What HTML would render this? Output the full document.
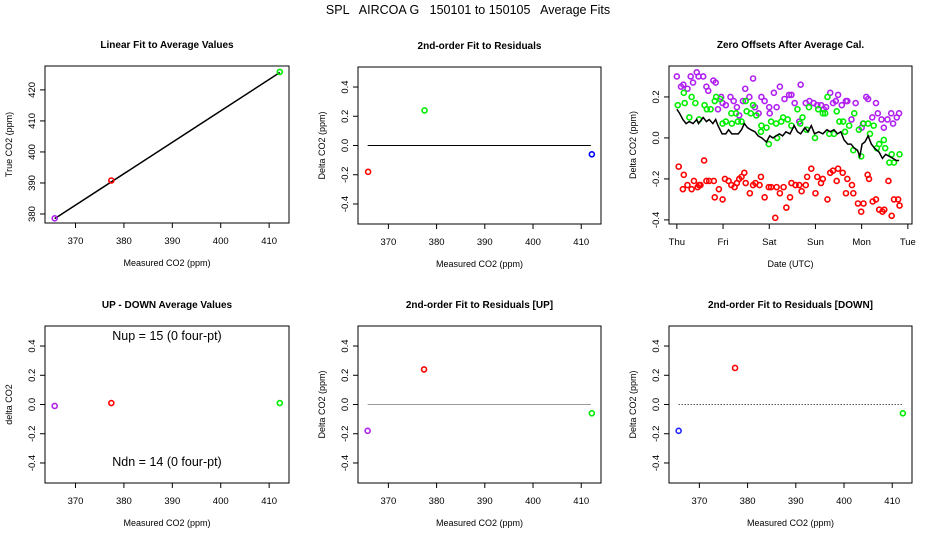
<!DOCTYPE html>
<html><head><meta charset="utf-8"><style>
body{margin:0;background:#fff}
svg{font-family:"Liberation Sans",Arial,sans-serif}
</style></head><body>
<svg id="c" width="936" height="540" viewBox="0 0 936 540">
<text x="468" y="14" text-anchor="middle" font-size="12.5" xml:space="preserve">SPL   AIRCOA G   150101 to 150105   Average Fits</text>
</svg>
<script>
// panel data
const p1X=[365.7,377.4,412.2], p1Y=[378.6,390.8,425.8], p1Col=['#b020f0','#ff0000','#00ee00'];
const p1Line=[[365.7,378.5],[412.2,425.6]];
const p2X=[365.8,377.5,412.2], p2Y=[-0.18,0.24,-0.06], p2Col=['#ff0000','#00ee00','#0000ff'];
const p4X=[365.7,377.4,412.2], p4Y=[-0.01,0.01,0.01], p4Col=['#b020f0','#ff0000','#00ee00'];
const p5X=[365.7,377.4,412.2], p5Y=[-0.18,0.24,-0.06], p5Col=['#b020f0','#ff0000','#00ee00'];
const p6X=[365.7,377.4,412.2], p6Y=[-0.18,0.25,-0.06], p6Col=['#2020ff','#ff0000','#00ee00'];
const co2Ticks=[370,380,390,400,410];
const deltaTicks=[-0.4,-0.2,0,0.2,0.4];
const trueTicks=[380,390,400,410,420];
const dayTicks=['Thu','Fri','Sat','Sun','Mon','Tue'];
const offTicks=[-0.4,-0.2,0,0.2];
// zero offsets (day, value)
const purD=[0,0.09,0.14,0.23,0.30,0.35,0.43,0.47,0.57,0.64,0.68,0.79,0.84,0.89,0.96,0.99,1.06,1.16,1.23,1.30,1.35,1.43,1.48,1.57,1.65,1.69,1.77,1.83,1.90,2.0,2.01,2.10,2.16,2.23,2.33,2.43,2.48,2.55,2.65,2.68,2.79,2.87,2.96,3.04,3.12,3.18,3.23,3.32,3.38,3.44,3.49,3.57,3.66,3.69,3.78,3.87,4.0,4.03,4.10,4.14,4.23,4.31,4.35,4.43,4.48,4.56,4.64,4.68,4.76,4.81];
const purV=[0.30,0.25,0.26,0.24,0.30,0.27,0.32,0.30,0.30,0.25,0.23,0.28,0.27,0.14,0.20,0.17,0.16,0.20,0.18,0.15,0.11,0.18,0.24,0.20,0.29,0.15,0.12,0.20,0.18,0.15,0.12,0.22,0.15,0.25,0.19,0.21,0.21,0.17,0.08,0.26,0.17,0.18,0.17,0.16,0.16,0.14,0.15,0.22,0.17,0.18,0.21,0.16,0.18,0.18,0.09,0.17,0.05,0.07,0.20,0.19,0.10,0.17,0.12,0.09,0.05,0.09,0.12,0.07,0.10,0.12];
const grnD=[0.02,0.17,0.15,0.27,0.32,0.40,0.48,0.60,0.65,0.73,0.82,0.85,0.94,0.99,1.06,1.18,1.19,1.28,1.32,1.40,1.49,1.51,1.60,1.65,1.72,1.82,1.83,1.94,1.99,2.04,2.15,2.17,2.26,2.30,2.40,2.48,2.61,2.67,2.72,2.81,2.86,2.99,3.06,3.16,3.21,3.26,3.30,3.40,3.46,3.52,3.60,3.64,3.73,3.82,3.84,3.94,3.99,4.04,4.14,4.18,4.26,4.33,4.38,4.48,4.51,4.60,4.65,4.70,4.82];
const grnV=[0.16,0.17,0.22,0.10,0.20,0.17,0.09,0.16,0.14,0.14,0.18,0.20,0.19,0.07,0.08,0.12,0.07,0.12,0.08,0.08,0.18,0.13,0.12,0.16,0.11,0.03,0.06,0.05,-0.03,0.08,0.07,0.00,0.08,0.10,0.09,0.06,0.14,0.07,0.10,0.04,0.15,0.00,0.14,0.12,0.12,0.20,0.02,0.02,0.13,0.08,0.08,0.03,0.06,-0.06,0.12,0.04,-0.09,0.07,0.07,0.02,0.06,-0.05,-0.03,-0.01,-0.05,-0.12,-0.08,-0.12,-0.08];
const redD=[0.04,0.13,0.15,0.23,0.32,0.37,0.45,0.48,0.51,0.59,0.64,0.70,0.80,0.82,0.91,0.99,1.04,1.12,1.18,1.25,1.30,1.35,1.40,1.46,1.49,1.58,1.65,1.70,1.79,1.82,1.90,1.99,2.04,2.13,2.16,2.23,2.31,2.37,2.45,2.48,2.57,2.65,2.70,2.79,2.82,2.91,3.00,3.04,3.12,3.16,3.26,3.32,3.38,3.46,3.49,3.59,3.69,3.66,3.79,3.82,3.92,3.99,4.04,4.13,4.16,4.24,4.31,4.38,4.45,4.49,4.58,4.65,4.70,4.79,4.82];
const redV=[-0.14,-0.25,-0.18,-0.23,-0.25,-0.21,-0.24,-0.23,-0.23,-0.11,-0.21,-0.21,-0.21,-0.29,-0.25,-0.30,-0.20,-0.21,-0.23,-0.24,-0.22,-0.20,-0.19,-0.17,-0.22,-0.27,-0.23,-0.22,-0.23,-0.19,-0.29,-0.24,-0.24,-0.39,-0.24,-0.27,-0.24,-0.34,-0.29,-0.22,-0.23,-0.23,-0.26,-0.23,-0.19,-0.15,-0.27,-0.19,-0.22,-0.20,-0.30,-0.17,-0.16,-0.21,-0.15,-0.17,-0.20,-0.27,-0.23,-0.27,-0.32,-0.36,-0.32,-0.18,-0.20,-0.31,-0.30,-0.35,-0.36,-0.35,-0.21,-0.38,-0.30,-0.30,-0.33];
const blkD=[0,0.06,0.13,0.20,0.27,0.35,0.43,0.47,0.57,0.64,0.70,0.78,0.84,0.89,0.98,1.06,1.12,1.19,1.26,1.33,1.40,1.46,1.53,1.60,1.69,1.76,1.84,1.94,2.01,2.08,2.15,2.22,2.29,2.36,2.45,2.54,2.61,2.68,2.77,2.84,2.91,2.98,3.07,3.16,3.25,3.32,3.40,3.48,3.55,3.62,3.70,3.77,3.84,3.91,3.96,4.01,4.07,4.14,4.21,4.28,4.38,4.45,4.52,4.60,4.68,4.75,4.81];
const blkV=[0.14,0.12,0.09,0.07,0.08,0.07,0.09,0.07,0.10,0.08,0.09,0.07,0.09,0.06,0.02,0.02,0.04,0.02,0.02,0.02,0.04,0.07,0.05,0.04,0.03,0.01,0.00,-0.02,0.01,0.00,0.01,0.02,0.01,0.03,0.02,0.06,0.03,0.02,0.05,0.03,0.06,0.02,0.03,0.02,0.04,0.03,0.04,0.02,0.03,-0.01,-0.03,-0.03,-0.05,-0.06,-0.09,-0.03,-0.02,0.01,-0.03,-0.05,-0.07,-0.10,-0.08,-0.09,-0.10,-0.11,-0.11];

const svg=document.getElementById('c');
const NS='http://www.w3.org/2000/svg';
function el(tag,attrs,parent){const e=document.createElementNS(NS,tag);for(const k in attrs)e.setAttribute(k,attrs[k]);(parent||svg).appendChild(e);return e;}

function panel(cfg){
  const g=el('g',{});
  
  
  const {x0,x1,y0,y1,xd,yd}=cfg;
  const sx=v=>x0+(v-xd[0])/(xd[1]-xd[0])*(x1-x0);
  const sy=v=>y1-(v-yd[0])/(yd[1]-yd[0])*(y1-y0);
  const box=el('rect',{x:x0,y:y0,width:x1-x0,height:y1-y0,fill:'none',stroke:'#000','stroke-width':1},g);
  
  
  const t=el('text',{x:(x0+x1)/2,y:y0-18,'text-anchor':'middle','font-size':10,'font-weight':'bold'},g);
  t.textContent=cfg.title;
  
  
  const xv=cfg.xticks, xl=cfg.xlabels||cfg.xticks;
  el('line',{x1:sx(xv[0]),x2:sx(xv[xv.length-1]),y1:y1,y2:y1,stroke:'#000'},g);
  xv.forEach((v,i)=>{
    el('line',{x1:sx(v),x2:sx(v),y1:y1,y2:y1+5,stroke:'#000'},g);
    const tl=el('text',{x:sx(v),y:y1+21,'text-anchor':'middle','font-size':9.5},g);
    tl.textContent=xl[i];
    
    
  });
  const yv=cfg.yticks;
  el('line',{x1:x0,x2:x0,y1:sy(yv[0]),y2:sy(yv[yv.length-1]),stroke:'#000'},g);
  yv.forEach(v=>{
    el('line',{x1:x0,x2:x0-5,y1:sy(v),y2:sy(v),stroke:'#000'},g);
    const tl=el('text',{x:x0-10,y:sy(v),'text-anchor':'middle','font-size':9.5,transform:`rotate(-90 ${x0-10} ${sy(v)})`},g);
    tl.textContent=cfg.yfmt(v);
    
    
  });
  const xt=el('text',{x:(x0+x1)/2,y:y1+43,'text-anchor':'middle','font-size':9},g);
  xt.textContent=cfg.xlab;
  
  
  const yx=x0-33, ym=(y0+y1)/2;
  const yt=el('text',{x:yx,y:ym,'text-anchor':'middle','font-size':9,transform:`rotate(-90 ${yx} ${ym})`},g);
  yt.textContent=cfg.ylab;
  
  
  return {g,sx,sy};
}
function pt(g,x,y,c){
  const p=el('circle',{cx:x,cy:y,r:2.5,fill:'none',stroke:c,'stroke-width':1.6},g);
  
  
}
const f1=v=>v.toFixed(1), f0=v=>String(v);
const co2D=[363.7,414.1], dD=[-0.537,0.537];

let P=panel({name:'linear-fit-panel',x0:45,x1:289,y0:66,y1:223,xd:co2D,yd:[377.1,427.7],xticks:co2Ticks,yticks:trueTicks,yfmt:f0,title:'Linear Fit to Average Values',xlab:'Measured CO2 (ppm)',ylab:'True CO2 (ppm)'});
let ln=el('line',{x1:P.sx(p1Line[0][0]),y1:P.sy(p1Line[0][1]),x2:P.sx(p1Line[1][0]),y2:P.sy(p1Line[1][1]),stroke:'#000','stroke-width':1.5},P.g);


p1X.forEach((x,i)=>pt(P.g,P.sx(x),P.sy(p1Y[i]),p1Col[i]));

P=panel({name:'residuals-panel',x0:358,x1:601,y0:67,y1:224,xd:co2D,yd:dD,xticks:co2Ticks,yticks:deltaTicks,yfmt:f1,title:'2nd-order Fit to Residuals',xlab:'Measured CO2 (ppm)',ylab:'Delta CO2 (ppm)'});
ln=el('line',{x1:P.sx(365.7),x2:P.sx(412),y1:P.sy(0),y2:P.sy(0),stroke:'#000','stroke-width':1},P.g);


p2X.forEach((x,i)=>pt(P.g,P.sx(x),P.sy(p2Y[i]),p2Col[i]));

P=panel({name:'zero-offsets-panel',x0:669,x1:912,y0:66,y1:224,xd:[-0.17,5.09],yd:[-0.42,0.351],xticks:[0,1,2,3,4,5],xlabels:dayTicks,yticks:offTicks,yfmt:f1,title:'Zero Offsets After Average Cal.',xlab:'Date (UTC)',ylab:'Delta CO2 (ppm)'});
purD.forEach((d,i)=>pt(P.g,P.sx(d),P.sy(purV[i]),'#b020f0'));
grnD.forEach((d,i)=>pt(P.g,P.sx(d),P.sy(grnV[i]),'#00ee00'));
redD.forEach((d,i)=>pt(P.g,P.sx(d),P.sy(redV[i]),'#ff0000'));
const pl=el('polyline',{points:blkD.map((d,i)=>P.sx(d)+','+P.sy(blkV[i])).join(' '),fill:'none',stroke:'#000','stroke-width':1.5},P.g);



P=panel({name:'up-down-panel',x0:45,x1:289,y0:326,y1:483,xd:co2D,yd:dD,xticks:co2Ticks,yticks:deltaTicks,yfmt:f1,title:'UP - DOWN Average Values',xlab:'Measured CO2 (ppm)',ylab:'delta CO2'});
p4X.forEach((x,i)=>pt(P.g,P.sx(x),P.sy(p4Y[i]),p4Col[i]));
[['Nup = 15 (0 four-pt)',340,'n-up-label'],['Ndn = 14 (0 four-pt)',466,'n-down-label']].forEach(a=>{
  const t=el('text',{x:167,y:a[1],'text-anchor':'middle','font-size':12.5},P.g);
  t.textContent=a[0];
  
  
});

P=panel({name:'residuals-up-panel',x0:358,x1:601,y0:326,y1:483,xd:co2D,yd:dD,xticks:co2Ticks,yticks:deltaTicks,yfmt:f1,title:'2nd-order Fit to Residuals [UP]',xlab:'Measured CO2 (ppm)',ylab:'Delta CO2 (ppm)'});
ln=el('line',{x1:P.sx(365.7),x2:P.sx(412),y1:P.sy(0),y2:P.sy(0),stroke:'#999','stroke-width':1},P.g);


p5X.forEach((x,i)=>pt(P.g,P.sx(x),P.sy(p5Y[i]),p5Col[i]));

P=panel({name:'residuals-down-panel',x0:669,x1:912,y0:326,y1:483,xd:co2D,yd:dD,xticks:co2Ticks,yticks:deltaTicks,yfmt:f1,title:'2nd-order Fit to Residuals [DOWN]',xlab:'Measured CO2 (ppm)',ylab:'Delta CO2 (ppm)'});
ln=el('line',{x1:P.sx(365.7),x2:P.sx(412),y1:P.sy(0),y2:P.sy(0),stroke:'#000','stroke-width':1,'stroke-dasharray':'1,2'},P.g);


p6X.forEach((x,i)=>pt(P.g,P.sx(x),P.sy(p6Y[i]),p6Col[i]));
</script>
</body></html>
